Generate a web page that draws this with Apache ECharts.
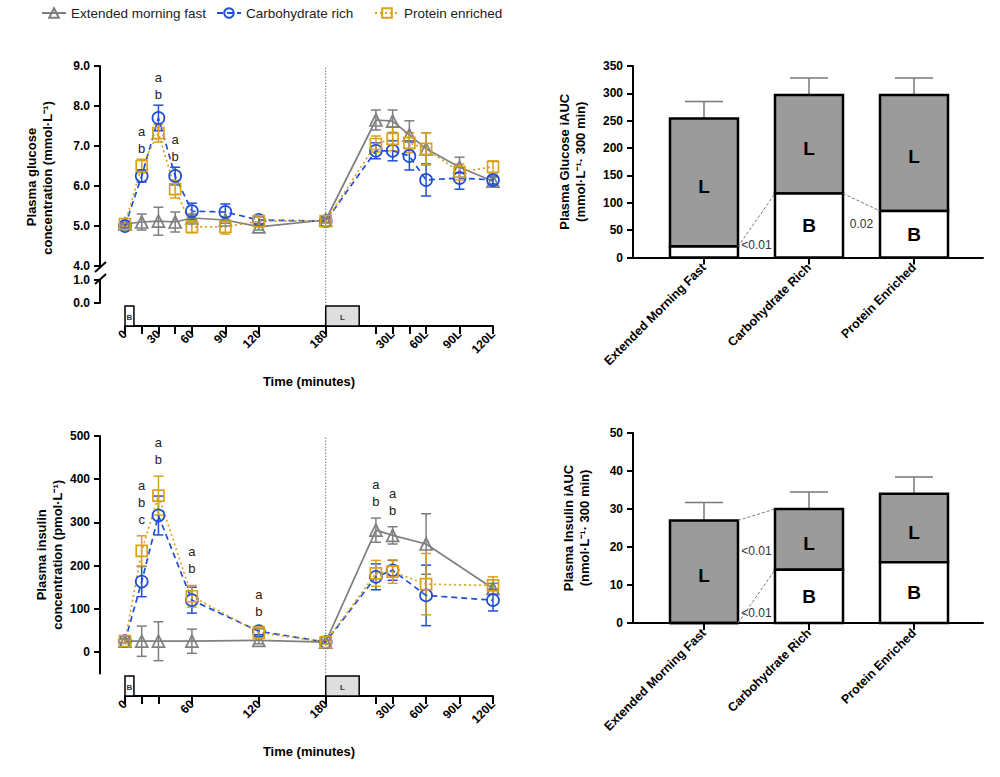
<!DOCTYPE html>
<html>
<head>
<meta charset="utf-8">
<script src="https://cdn.jsdelivr.net/npm/echarts@6/dist/echarts.min.js"></script>
<style>
  html, body { margin: 0; background: #fff; }
  #chart { width: 1000px; height: 777px; }
</style>
</head>
<body>
<div id="chart"></div>
<script>
// ---------- data ----------
const groupNames = ['Extended morning fast', 'Carbohydrate rich', 'Protein enriched'];

// plasma glucose (mmol/L), mean and SEM
const glucoseTimes = [0, 15, 30, 45, 60, 90, 120, 180, 225, 240, 255, 270, 300, 330];
const glucoseFastMean = [5.05, 5.10, 5.12, 5.10, 5.20, 5.15, 4.98, 5.15, 7.65, 7.62, 7.28, 6.93, 6.47, 6.12];
const glucoseFastSem  = [0.05, 0.20, 0.35, 0.25, 0.10, 0.08, 0.08, 0.05, 0.25, 0.28, 0.35, 0.40, 0.25, 0.10];
const glucoseCarbMean = [5.00, 6.25, 7.70, 6.25, 5.37, 5.35, 5.15, 5.12, 6.88, 6.88, 6.75, 6.15, 6.20, 6.15];
const glucoseCarbSem  = [0.05, 0.15, 0.32, 0.22, 0.20, 0.20, 0.10, 0.05, 0.20, 0.25, 0.35, 0.40, 0.28, 0.10];
const glucoseProtMean = [5.05, 6.50, 7.32, 5.92, 4.98, 4.98, 5.12, 5.12, 7.05, 7.18, 7.08, 6.93, 6.35, 6.48];
const glucoseProtSem  = [0.05, 0.17, 0.22, 0.22, 0.15, 0.18, 0.10, 0.05, 0.20, 0.30, 0.25, 0.40, 0.20, 0.15];

// plasma insulin (pmol/L), mean and SEM
const insulinTimes = [0, 15, 30, 60, 120, 180, 225, 240, 270, 330];
const insulinFastMean = [25, 25, 25, 25, 27, 23, 282, 270, 250, 147];
const insulinFastSem  = [5, 35, 45, 28, 8, 5, 28, 20, 70, 12];
const insulinCarbMean = [25, 163, 316, 120, 48, 23, 174, 189, 131, 120];
const insulinCarbSem  = [5, 35, 45, 30, 8, 5, 30, 23, 70, 25];
const insulinProtMean = [25, 234, 362, 129, 45, 23, 182, 186, 157, 154];
const insulinProtSem  = [5, 35, 45, 25, 8, 5, 30, 27, 71, 20];

// time axis ticks / labels
const glucoseTickValues = [0, 15, 30, 45, 60, 90, 120, 180, 225, 240, 255, 270, 300, 330];
const glucoseLabelValues = [0, 30, 60, 90, 120, 180, 240, 270, 300, 330];
const glucoseLabelTexts = ['0', '30', '60', '90', '120', '180', '30L', '60L', '90L', '120L'];
const insulinTickValues = [0, 15, 30, 60, 120, 180, 225, 240, 270, 300, 330];
const insulinLabelValues = [0, 60, 120, 180, 240, 270, 300, 330];
const insulinLabelTexts = ['0', '60', '120', '180', '30L', '60L', '90L', '120L'];
const insulinYTicks = [0, 100, 200, 300, 400, 500];

// meals: [label, start, end] in minutes; lunch divider
const mealBoxes = [['B', 0, 8], ['L', 180, 210]];
const lunchTime = 180;

// significance letters: [time, letters]
const glucoseSig = [[15, 'a\nb'], [30, 'a\nb'], [45, 'a\nb']];
const insulinSig = [[15, 'a\nb\nc'], [30, 'a\nb'], [60, 'a\nb'], [120, 'a\nb'], [225, 'a\nb'], [240, 'a\nb']];

// iAUC stacked bars (B = after breakfast, L = after lunch)
const barCategories = ['Extended Morning Fast', 'Carbohydrate Rich', 'Protein Enriched'];
const glucoseAucB = [20, 117, 85];
const glucoseAucL = [234, 180, 212];
const glucoseAucSem = [31, 31, 31];
const insulinAucB = [0, 14, 16];
const insulinAucL = [27, 16, 18];
const insulinAucSem = [4.7, 4.5, 4.4];

// p values between bars: [from, to, level, p text, p label value]
const glucoseCompare = [[0, 1, 'base', '<0.01', 22], [1, 2, 'base', '0.02', 61]];
const insulinCompare = [[0, 1, 'total', '<0.01', 19], [0, 1, 'base', '<0.01', 2.7]];

// ---------- styles ----------
const FONT = '"Liberation Sans", Arial, Helvetica, sans-serif';
const GREY = '#7f7f7f';
const BLUE = '#1f4fd8';
const GOLD = '#d9a21b';
const BAR_GREY = '#9b9b9b';
const BAR_PX = 68;

const chart = echarts.init(document.getElementById('chart'), null, { renderer: 'svg' });

const axisBase = {
  nameMoveOverlap: false,
  axisLine: { onZero: false, lineStyle: { color: '#000', width: 2 } },
  axisTick: { length: 6, lineStyle: { color: '#000', width: 2 } },
  axisLabel: { color: '#000', fontWeight: 'bold', fontSize: 12, fontFamily: FONT, margin: 10 },
  splitLine: { show: false },
  nameTextStyle: { color: '#000', fontWeight: 'bold', fontSize: 13, fontFamily: FONT, lineHeight: 16 }
};
function ax(extra) {
  return echarts.util.merge(echarts.util.clone(axisBase), extra, true);
}

const hiddenTime = { type: 'value', min: -22.4, max: 330, show: false };

function timeAxis(gridIndex, ticks, labelValues, labelTexts) {
  return ax({
    gridIndex, type: 'value', min: 0, max: 330,
    axisTick: { length: 8, customValues: ticks },
    axisLabel: {
      customValues: labelValues, rotate: 45, margin: 6,
      formatter: (v) => labelTexts[labelValues.indexOf(v)]
    },
    name: 'Time (minutes)', nameLocation: 'middle', nameGap: 47
  });
}

function aucAxis(gridIndex) {
  return ax({
    gridIndex, type: 'value', min: -0.676, max: 2.657,
    axisTick: { length: 7, customValues: [0, 1, 2] },
    axisLabel: { customValues: [0, 1, 2], rotate: 45, margin: 8, fontSize: 12.5, formatter: (v) => barCategories[v] }
  });
}

// rotated title line for the broken glucose axis
function titleText(text, x, y) {
  return {
    type: 'text', x, y, rotation: Math.PI / 2,
    style: { text, align: 'center', verticalAlign: 'middle', font: 'bold 13px ' + FONT, fill: '#000' }
  };
}

function meanSeries(name, xi, yi, times, mean, color, dash, symbol, size) {
  return {
    type: 'line', name, xAxisIndex: xi, yAxisIndex: yi, z: 4,
    data: times.map((t, i) => [t, mean[i]]),
    symbol, symbolSize: size, showAllSymbol: true,
    lineStyle: { color, width: 1.7, type: dash },
    itemStyle: { color: 'rgba(255,255,255,0)', borderColor: color, borderWidth: 1.7 },
    emphasis: { disabled: true }
  };
}

function errorSeries(xi, yi, times, mean, sem, color) {
  return {
    type: 'custom', xAxisIndex: xi, yAxisIndex: yi, z: 3, silent: true,
    data: times.map((t, i) => [t, mean[i] - sem[i], mean[i] + sem[i]]),
    renderItem(params, api) {
      const lo = api.coord([api.value(0), api.value(1)]);
      const hi = api.coord([api.value(0), api.value(2)]);
      const cap = 5;
      const st = { stroke: color, lineWidth: 1.5 };
      return {
        type: 'group', children: [
          { type: 'line', shape: { x1: lo[0], y1: lo[1], x2: hi[0], y2: hi[1] }, style: st },
          { type: 'line', shape: { x1: lo[0] - cap, y1: lo[1], x2: lo[0] + cap, y2: lo[1] }, style: st },
          { type: 'line', shape: { x1: hi[0] - cap, y1: hi[1], x2: hi[0] + cap, y2: hi[1] }, style: st }
        ]
      };
    }
  };
}

function letterSeries(xi, yi, marks, times, means, sems, gap) {
  return {
    type: 'custom', xAxisIndex: xi, yAxisIndex: yi, z: 5, silent: true,
    data: marks.map((m) => {
      const i = times.indexOf(m[0]);
      return [m[0], Math.max(...means.map((arr, k) => arr[i] + sems[k][i]))];
    }),
    renderItem(params, api) {
      const p = api.coord([api.value(0), api.value(1)]);
      return {
        type: 'text', x: p[0], y: p[1] - gap,
        style: {
          text: marks[params.dataIndex][1], align: 'center', verticalAlign: 'bottom',
          font: '13px ' + FONT, lineHeight: 17, fill: '#222'
        }
      };
    }
  };
}

function mealSeries(xi, yi) {
  return {
    type: 'custom', xAxisIndex: xi, yAxisIndex: yi, z: 1, silent: true,
    data: mealBoxes.map((b) => [b[1], b[2]]),
    renderItem(params, api) {
      const b = mealBoxes[params.dataIndex];
      const p0 = api.coord([b[1], 0]);
      const p1 = api.coord([b[2], 1]);
      return {
        type: 'group', children: [
          {
            type: 'rect', shape: { x: p0[0], y: p1[1], width: p1[0] - p0[0], height: p0[1] - p1[1] },
            style: { fill: b[0] === 'L' ? '#dedede' : '#fff', stroke: '#000', lineWidth: 1.5 }
          },
          {
            type: 'text', x: (p0[0] + p1[0]) / 2, y: (p0[1] + p1[1]) / 2 + 1,
            style: { text: b[0], align: 'center', verticalAlign: 'middle', font: 'bold 8px ' + FONT, fill: '#333' }
          }
        ]
      };
    }
  };
}

function dividerSeries(xi, yi) {
  return {
    type: 'custom', xAxisIndex: xi, yAxisIndex: yi, z: 1, silent: true,
    data: [[lunchTime, 1, 13]],
    renderItem(params, api) {
      const a = api.coord([api.value(0), api.value(1)]);
      const b = api.coord([api.value(0), api.value(2)]);
      return {
        type: 'line', shape: { x1: a[0], y1: a[1], x2: b[0], y2: b[1] },
        style: { stroke: '#777', lineWidth: 1, lineDash: [1.5, 1.5] }
      };
    }
  };
}

function aucSeries(gi, base, top, sem) {
  return {
    type: 'custom', xAxisIndex: gi, yAxisIndex: gi, z: 2, silent: true,
    data: base.map((b, i) => [i, b, top[i], sem[i]]),
    renderItem(params, api) {
      const i = api.value(0), b = api.value(1), l = api.value(2), e = api.value(3);
      const p0 = api.coord([i, 0]);
      const p1 = api.coord([i, b]);
      const p2 = api.coord([i, b + l]);
      const p3 = api.coord([i, b + l + e]);
      const hw = BAR_PX / 2;
      const kids = [
        { type: 'line', shape: { x1: p2[0], y1: p2[1], x2: p3[0], y2: p3[1] }, style: { stroke: '#777', lineWidth: 1.5 } },
        { type: 'line', shape: { x1: p3[0] - 19, y1: p3[1], x2: p3[0] + 19, y2: p3[1] }, style: { stroke: '#777', lineWidth: 1.5 } },
        {
          type: 'rect', shape: { x: p0[0] - hw, y: p2[1], width: BAR_PX, height: p1[1] - p2[1] },
          style: { fill: BAR_GREY, stroke: '#000', lineWidth: 2.5 }
        },
        {
          type: 'rect', shape: { x: p0[0] - hw, y: p1[1], width: BAR_PX, height: p0[1] - p1[1] },
          style: { fill: '#fff', stroke: '#000', lineWidth: 2.5 }
        }
      ];
      if (p1[1] - p2[1] > 30) {
        kids.push({ type: 'text', x: p0[0], y: (p1[1] + p2[1]) / 2 + 4,
          style: { text: 'L', align: 'center', verticalAlign: 'middle', font: 'bold 19px ' + FONT, fill: '#000' } });
      }
      if (p0[1] - p1[1] > 30) {
        kids.push({ type: 'text', x: p0[0], y: (p0[1] + p1[1]) / 2,
          style: { text: 'B', align: 'center', verticalAlign: 'middle', font: 'bold 19px ' + FONT, fill: '#000' } });
      }
      return { type: 'group', children: kids };
    }
  };
}

function compareSeries(gi, compare, base, top) {
  const level = (i, lv) => (lv === 'base' ? base[i] : base[i] + top[i]);
  return {
    type: 'custom', xAxisIndex: gi, yAxisIndex: gi, z: 3, silent: true,
    data: compare.map((c) => [c[0], level(c[0], c[2]), c[1], level(c[1], c[2]), c[4]]),
    renderItem(params, api) {
      const a = api.coord([api.value(0), api.value(1)]);
      const b = api.coord([api.value(2), api.value(3)]);
      const t = api.coord([(api.value(0) + api.value(2)) / 2, api.value(4)]);
      const hw = BAR_PX / 2;
      return {
        type: 'group', children: [
          { type: 'line', shape: { x1: a[0] + hw, y1: a[1], x2: b[0] - hw, y2: b[1] },
            style: { stroke: '#777', lineWidth: 1, lineDash: [3, 2] } },
          { type: 'text', x: t[0], y: t[1],
            style: { text: compare[params.dataIndex][3], align: 'center', verticalAlign: 'middle',
              font: '12px ' + FONT, fill: '#333' } }
        ]
      };
    }
  };
}

function legendAt(name, left) {
  return {
    data: [name], left, top: 6, padding: 0, itemWidth: 24, itemHeight: 12, selectedMode: false,
    textStyle: { fontSize: 13.5, fontFamily: FONT, color: '#222' }
  };
}

const option = {
  animation: false,
  textStyle: { fontFamily: FONT },
  legend: [
    legendAt(groupNames[0], 41),
    legendAt(groupNames[1], 216),
    legendAt(groupNames[2], 374)
  ],
  grid: [
    { left: 100, top: 66, width: 393, height: 200 },   // 0 glucose 4-9
    { left: 100, top: 280, width: 393, height: 23 },   // 1 glucose 0-1 (broken axis)
    { left: 125, top: 66, width: 368, height: 260 },   // 2 glucose time axis strip
    { left: 100, top: 436, width: 393, height: 237.6 },// 3 insulin
    { left: 125, top: 436, width: 368, height: 260 },  // 4 insulin time axis strip
    { left: 633, top: 66, width: 350, height: 191.5 }, // 5 glucose iAUC
    { left: 633, top: 433, width: 350, height: 190 }   // 6 insulin iAUC
  ],
  xAxis: [
    Object.assign({ gridIndex: 0 }, hiddenTime),
    Object.assign({ gridIndex: 1 }, hiddenTime),
    timeAxis(2, glucoseTickValues, glucoseLabelValues, glucoseLabelTexts),
    Object.assign({ gridIndex: 3 }, hiddenTime),
    timeAxis(4, insulinTickValues, insulinLabelValues, insulinLabelTexts),
    aucAxis(5),
    aucAxis(6)
  ],
  yAxis: [
    ax({
      gridIndex: 0, type: 'value', min: 4, max: 9, interval: 1,
      axisLabel: { formatter: (v) => v.toFixed(1) }
    }),
    ax({
      gridIndex: 1, type: 'value', min: 0, max: 1, interval: 1,
      axisLabel: { formatter: (v) => v.toFixed(1) }
    }),
    { gridIndex: 2, type: 'value', min: 0, max: 13, show: false },
    ax({
      gridIndex: 3, type: 'value', min: -50, max: 500,
      axisTick: { customValues: insulinYTicks },
      axisLabel: { customValues: insulinYTicks },
      name: 'Plasma insulin\nconcentration (pmol·L⁻¹)', nameLocation: 'middle', nameGap: 35
    }),
    { gridIndex: 4, type: 'value', min: 0, max: 13, show: false },
    ax({
      gridIndex: 5, type: 'value', min: 0, max: 350, interval: 50,
      name: 'Plasma Glucose iAUC\n(mmol·L⁻¹· 300 min)', nameLocation: 'middle', nameGap: 45
    }),
    ax({
      gridIndex: 6, type: 'value', min: 0, max: 50, interval: 10,
      name: 'Plasma Insulin iAUC\n(nmol·L⁻¹· 300 min)', nameLocation: 'middle', nameGap: 41
    })
  ],
  graphic: [
    { type: 'line', shape: { x1: 95, y1: 272, x2: 106, y2: 262 }, style: { stroke: '#000', lineWidth: 2 } },
    { type: 'line', shape: { x1: 95, y1: 284, x2: 106, y2: 274 }, style: { stroke: '#000', lineWidth: 2 } },
    titleText('Plasma glucose', 31, 177),
    titleText('concentration (mmol·L⁻¹)', 47, 178)
  ],
  series: [
    // glucose time course
    meanSeries(groupNames[0], 0, 0, glucoseTimes, glucoseFastMean, GREY, 'solid', 'triangle', 12),
    meanSeries(groupNames[1], 0, 0, glucoseTimes, glucoseCarbMean, BLUE, [6, 4], 'circle', 12),
    meanSeries(groupNames[2], 0, 0, glucoseTimes, glucoseProtMean, GOLD, [2, 3], 'rect', 11),
    errorSeries(0, 0, glucoseTimes, glucoseFastMean, glucoseFastSem, GREY),
    errorSeries(0, 0, glucoseTimes, glucoseCarbMean, glucoseCarbSem, BLUE),
    errorSeries(0, 0, glucoseTimes, glucoseProtMean, glucoseProtSem, GOLD),
    letterSeries(0, 0, glucoseSig, glucoseTimes,
      [glucoseFastMean, glucoseCarbMean, glucoseProtMean], [glucoseFastSem, glucoseCarbSem, glucoseProtSem], 2),
    mealSeries(2, 2),
    dividerSeries(2, 2),
    // insulin time course
    meanSeries(groupNames[0], 3, 3, insulinTimes, insulinFastMean, GREY, 'solid', 'triangle', 12),
    meanSeries(groupNames[1], 3, 3, insulinTimes, insulinCarbMean, BLUE, [6, 4], 'circle', 12),
    meanSeries(groupNames[2], 3, 3, insulinTimes, insulinProtMean, GOLD, [2, 3], 'rect', 11),
    errorSeries(3, 3, insulinTimes, insulinFastMean, insulinFastSem, GREY),
    errorSeries(3, 3, insulinTimes, insulinCarbMean, insulinCarbSem, BLUE),
    errorSeries(3, 3, insulinTimes, insulinProtMean, insulinProtSem, GOLD),
    letterSeries(3, 3, insulinSig, insulinTimes,
      [insulinFastMean, insulinCarbMean, insulinProtMean], [insulinFastSem, insulinCarbSem, insulinProtSem], 8),
    mealSeries(4, 4),
    dividerSeries(4, 4),
    // iAUC bars
    aucSeries(5, glucoseAucB, glucoseAucL, glucoseAucSem),
    compareSeries(5, glucoseCompare, glucoseAucB, glucoseAucL),
    aucSeries(6, insulinAucB, insulinAucL, insulinAucSem),
    compareSeries(6, insulinCompare, insulinAucB, insulinAucL)
  ]
};

chart.setOption(option);
</script>
</body>
</html>
